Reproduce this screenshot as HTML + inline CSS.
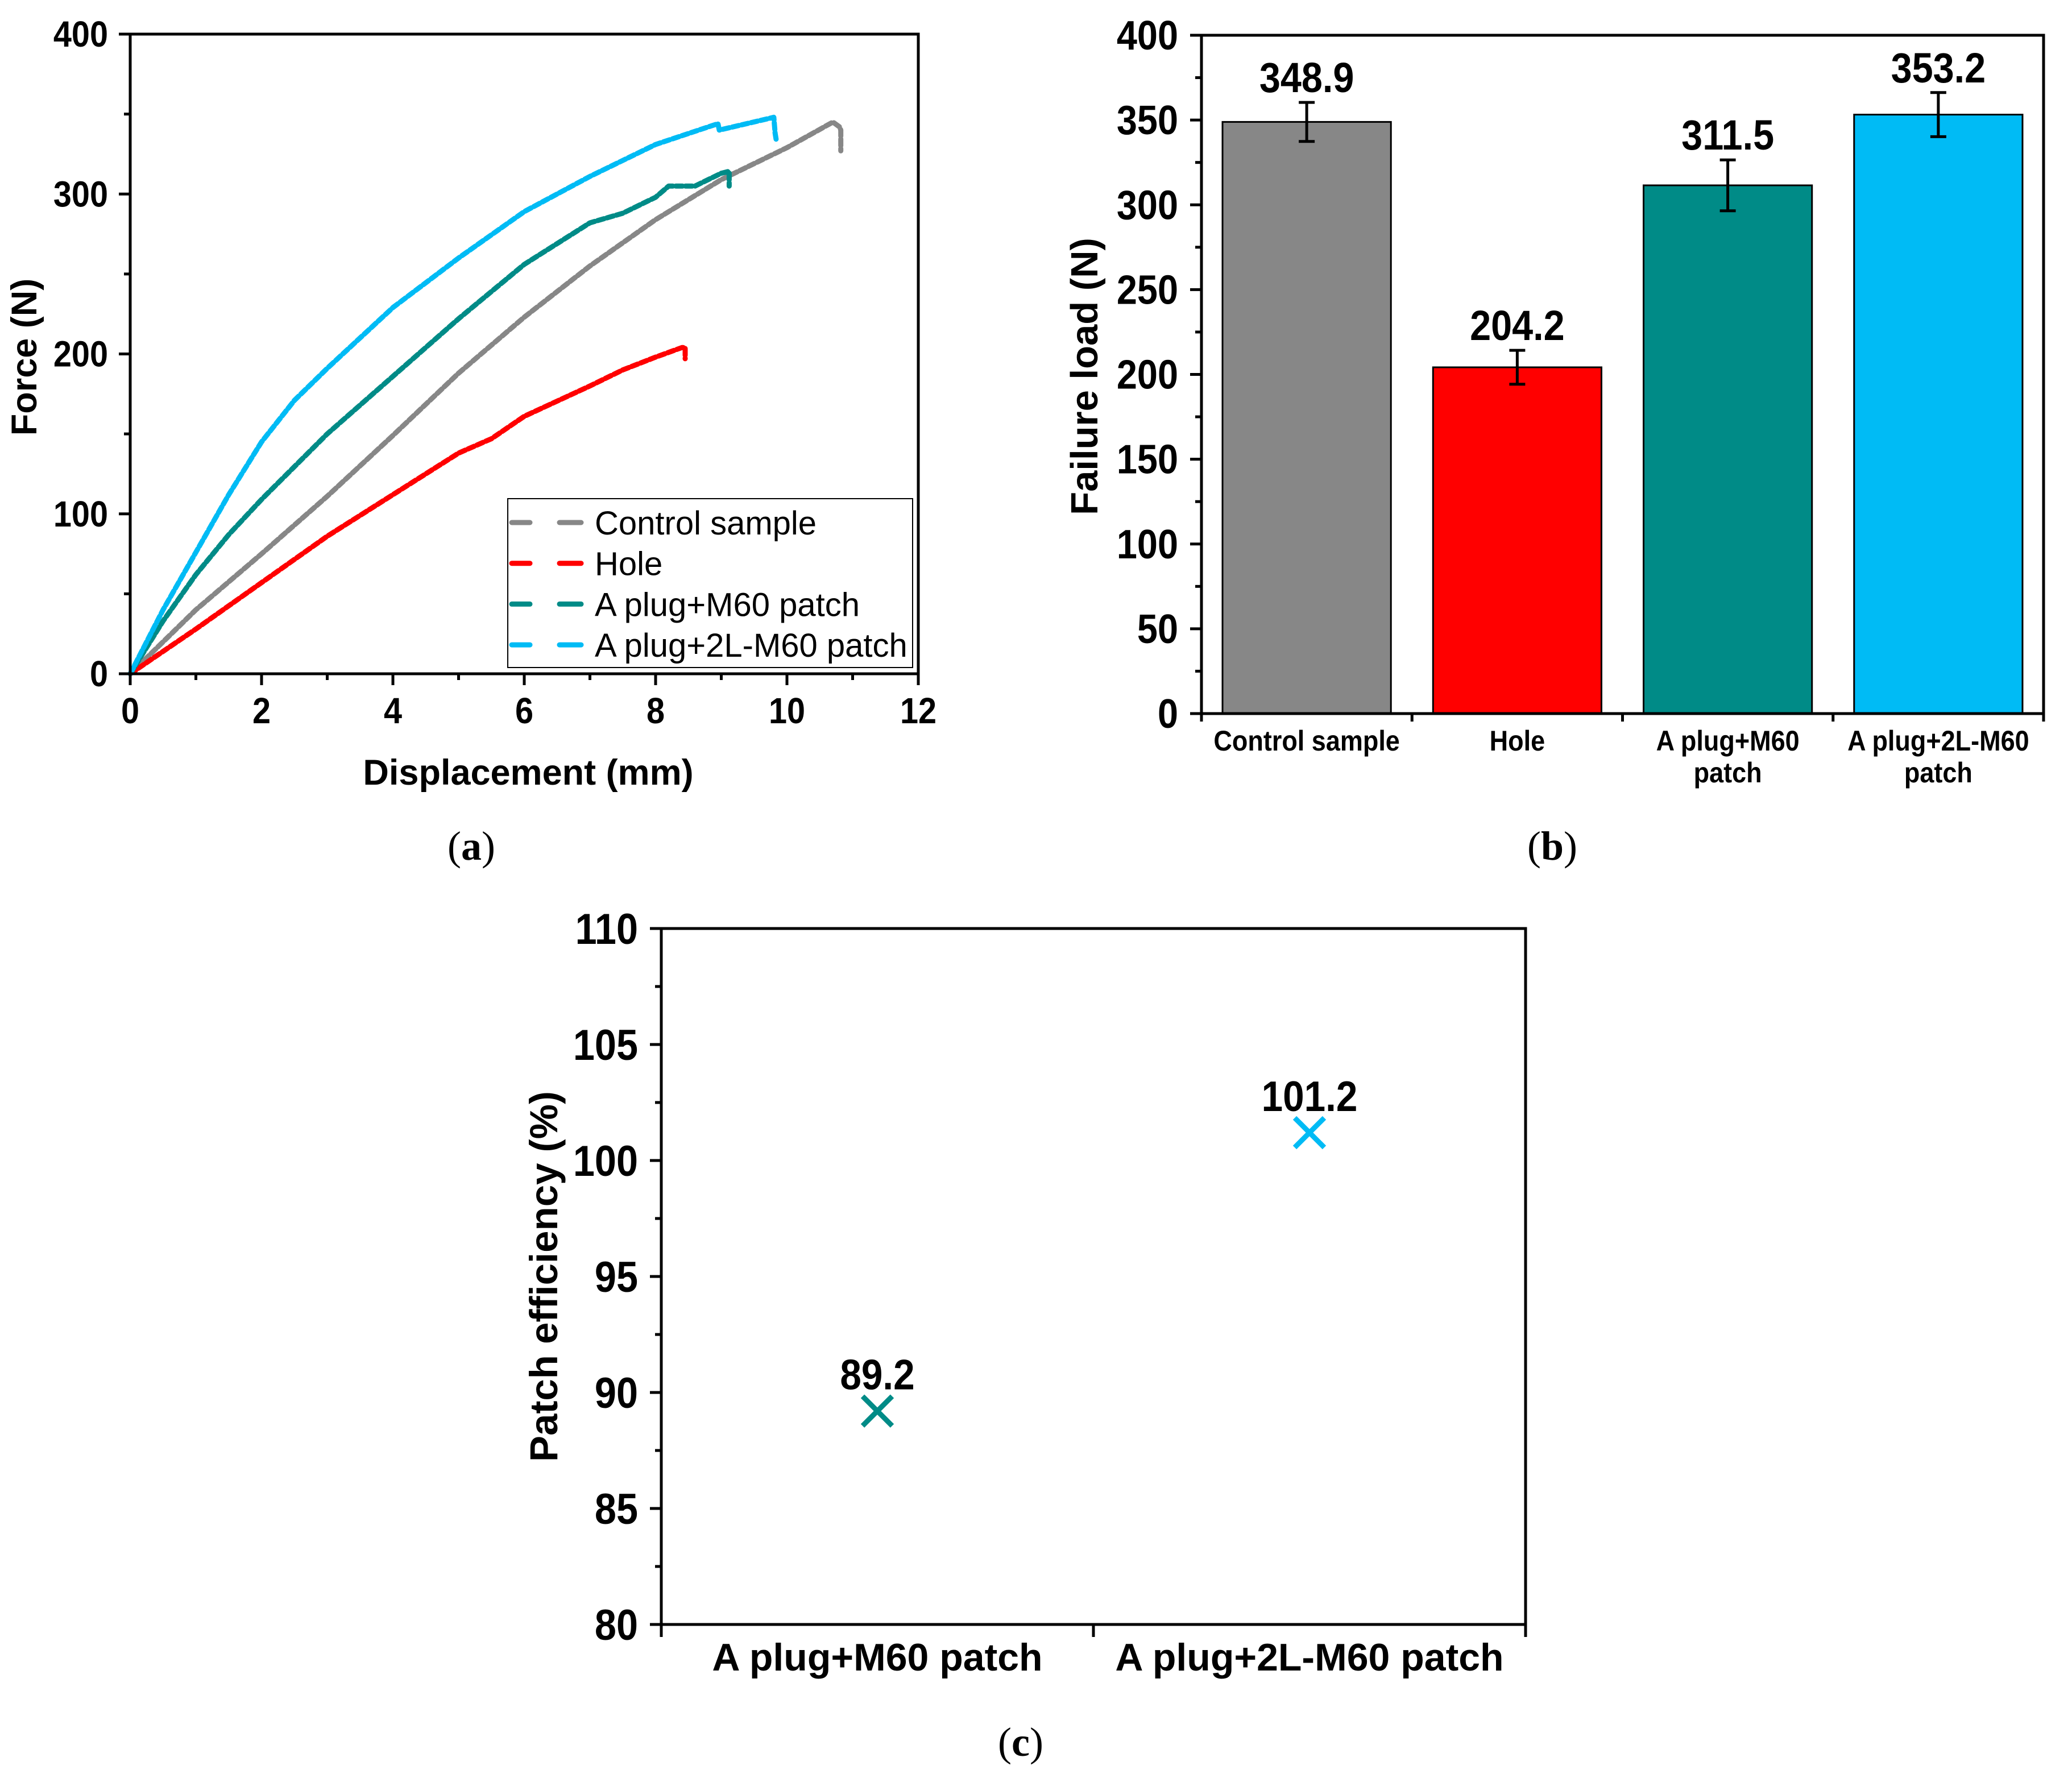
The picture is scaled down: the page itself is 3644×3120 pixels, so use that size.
<!DOCTYPE html>
<html><head><meta charset="utf-8"><style>
html,body{margin:0;padding:0;background:#fff}
svg{display:block}
.t{font-family:"Liberation Sans Narrow","Liberation Sans",Arial,sans-serif;font-weight:bold}
.r{font-family:"Liberation Sans",Arial,sans-serif}
.cap{font-family:"Liberation Serif",serif}
</style></head><body>
<svg id="fig" width="3644" height="3120" viewBox="0 0 3644 3120" xmlns="http://www.w3.org/2000/svg">
<text class="cap" x="829" y="1512" font-size="72" text-anchor="middle">(<tspan font-weight="bold">a</tspan>)</text>
<text class="cap" x="2730" y="1512" font-size="72" text-anchor="middle">(<tspan font-weight="bold">b</tspan>)</text>
<text class="cap" x="1795" y="3088" font-size="72" text-anchor="middle">(<tspan font-weight="bold">c</tspan>)</text>
</svg>
<script>
// ---- chart a data ----
const seriesNames=["Control sample","Hole","A plug+M60 patch","A plug+2L-M60 patch"];
const grayX=[0,0.5,1,2,3,4,5,6,7,8,9,10,10.7,10.8,10.82,10.82];
const grayY=[0,20,40,75,111,149,188,223,255,284,309,329,345,342,340,327];
const redX=[0,0.5,1,2,3,4,5,5.5,6,7,7.5,8,8.4,8.45,8.45];
const redY=[0,14,28,57,86,112,138,147,161,180,190,198,204,204,197];
const greenX=[0,0.5,1,1.5,2,3,4,5,6,7,7.5,8,8.2,8.6,9,9.1,9.12,9.12];
const greenY=[0,33,62,87,109,150,186,222,256,282,288,298,305,305,313,314,314,305];
const blueX=[0,0.5,1,1.5,2,2.5,3,4,5,6,7,8,8.95,8.97,9.8,9.82,9.84];
const blueY=[0,40,76,112,145,171,191,229,260,289,311,331,344,340,348,338,333];
const xTicksA=[0,2,4,6,8,10,12];
const yTicksA=[0,100,200,300,400];
// ---- chart b data ----
const barCats=[["Control sample"],["Hole"],["A plug+M60","patch"],["A plug+2L-M60","patch"]];
const barVals=[348.9,204.2,311.5,353.2];
const barErr=[11.5,10,15,13];
const barLabels=["348.9","204.2","311.5","353.2"];
const yTicksB=[0,50,100,150,200,250,300,350,400];
// ---- chart c data ----
const effCats=["A plug+M60 patch","A plug+2L-M60 patch"];
const effVals=[89.2,101.2];
const effLabels=["89.2","101.2"];
const yTicksC=[80,85,90,95,100,105,110];

const colors=["#878787","#ff0000","#008b87","#00bbf5"];
const NS="http://www.w3.org/2000/svg";
const svg=document.getElementById('fig');
function mk(tag,attrs,parent){const e=document.createElementNS(NS,tag);for(const k in attrs)e.setAttribute(k,attrs[k]);(parent||svg).appendChild(e);return e;}
function txt(s,attrs,parent){const e=mk('text',attrs,parent);e.textContent=s;return e;}
function ntxt(s,x,y,size,anchor,parent){const e=mk('text',{class:'t',transform:`translate(${x},${y}) scale(0.9,1)`,'font-size':size,'text-anchor':anchor},parent);e.textContent=s;return e;}

// ===== Chart A =====
const A={l:229,r:1615,t:60,b:1185};
const ax=v=>A.l+(v/12)*(A.r-A.l);
const ay=v=>A.b-(v/400)*(A.b-A.t);
const gA=mk('g',{});


const sets=[[grayX,grayY],[redX,redY],[greenX,greenY],[blueX,blueY]];
const names=['series-control','series-hole','series-plug-m60','series-plug-2l-m60'];
sets.forEach((s,i)=>{
  let d='';s[0].forEach((x,j)=>{d+=(j?'L':'M')+ax(x).toFixed(1)+','+ay(s[1][j]).toFixed(1);});
  const p=mk('path',{d:d,fill:'none',stroke:colors[i],'stroke-width':9,'stroke-dasharray':'12 5','stroke-linecap':'round','stroke-linejoin':'round'},gA);
  
  
});
mk('rect',{x:A.l,y:A.t,width:A.r-A.l,height:A.b-A.t,fill:'none',stroke:'#000','stroke-width':5},gA);
for(let v=0;v<=400;v+=50){const y=ay(v);mk('line',{x1:A.l-(v%100?11:20),x2:A.l,y1:y,y2:y,stroke:'#000','stroke-width':5},gA);}
yTicksA.forEach(v=>{const t=ntxt(String(v),190,ay(v)+22,64,'end',gA);});
for(let v=0;v<=12;v+=1){const x=ax(v);mk('line',{x1:x,x2:x,y1:A.b,y2:A.b+(v%2?11:20),stroke:'#000','stroke-width':5},gA);}
xTicksA.forEach(v=>{const t=ntxt(String(v),ax(v),1272,64,'middle',gA);});
let tt=txt('Displacement (mm)',{class:'r','font-weight':'bold',x:929,y:1380,'font-size':63,'text-anchor':'middle'},gA);

tt=txt('Force (N)',{class:'r','font-weight':'bold',transform:'translate(64,628) rotate(-90)','font-size':63,'text-anchor':'middle'},gA);

const lg=mk('g',{},gA);


mk('rect',{x:893,y:877,width:712,height:297,fill:'#fff',stroke:'#000','stroke-width':2},lg);
seriesNames.forEach((n,i)=>{const y=919+i*71.7;
  mk('line',{x1:900,x2:932,y1:y,y2:y,stroke:colors[i],'stroke-width':9,'stroke-linecap':'round'},lg);
  mk('line',{x1:984,x2:1022,y1:y,y2:y,stroke:colors[i],'stroke-width':9,'stroke-linecap':'round'},lg);
  const t=txt(n,{class:'r',x:1046,y:y+21,'font-size':58},lg);
  
});

// ===== Chart B =====
const B={l:2113,r:3594,t:62,b:1255};
const bw=(B.r-B.l)/4;
const by=v=>B.b-(v/400)*(B.b-B.t);
const gB=mk('g',{});


barVals.forEach((v,i)=>{
  const cx=B.l+bw*(i+0.5),w=bw*0.8;
  const r=mk('rect',{x:cx-w/2,y:by(v),width:w,height:B.b-by(v),fill:colors[i],stroke:'#000','stroke-width':3},gB);
  
  const e1=by(v+barErr[i]),e2=by(v-barErr[i]);
  const eb=mk('path',{d:`M${cx},${e1}V${e2}M${cx-14},${e1}H${cx+14}M${cx-14},${e2}H${cx+14}`,stroke:'#000','stroke-width':5,fill:'none'},gB);
  
  const l=ntxt(barLabels[i],cx,e1-18,74,'middle',gB);
  
  barCats[i].forEach((s,k)=>{const c=ntxt(s,cx,1320+k*56,50,'middle',gB);});
});
mk('rect',{x:B.l,y:B.t,width:B.r-B.l,height:B.b-B.t,fill:'none',stroke:'#000','stroke-width':5},gB);
for(let v=0;v<=400;v+=25){const y=by(v);mk('line',{x1:B.l-(v%50?11:20),x2:B.l,y1:y,y2:y,stroke:'#000','stroke-width':5},gB);}
yTicksB.forEach(v=>{const t=ntxt(String(v),2072,by(v)+25,72,'end',gB);});
for(let i=0;i<=4;i++){const x=B.l+bw*i;mk('line',{x1:x,x2:x,y1:B.b,y2:B.b+14,stroke:'#000','stroke-width':5},gB);}
tt=txt('Failure load (N)',{class:'r','font-weight':'bold',transform:'translate(1930,662) rotate(-90)','font-size':67,'text-anchor':'middle'},gB);


// ===== Chart C =====
const C={l:1163,r:2683,t:1633,b:2857};
const cw=(C.r-C.l)/2;
const cy=v=>C.b-((v-80)/30)*(C.b-C.t);
const gC=mk('g',{});


mk('rect',{x:C.l,y:C.t,width:C.r-C.l,height:C.b-C.t,fill:'none',stroke:'#000','stroke-width':5},gC);
for(let v=80;v<=110;v+=2.5){const y=cy(v);mk('line',{x1:C.l-(v%5?11:20),x2:C.l,y1:y,y2:y,stroke:'#000','stroke-width':5},gC);}
yTicksC.forEach(v=>{const t=ntxt(String(v),1122,cy(v)+27,76,'end',gC);});
for(let i=0;i<=2;i++){const x=C.l+cw*i;mk('line',{x1:x,x2:x,y1:C.b,y2:C.b+22,stroke:'#000','stroke-width':5},gC);}
const ccol=[colors[2],colors[3]];
effVals.forEach((v,i)=>{
  const x=C.l+cw*(i+0.5),y=cy(v),s=26;
  const m=mk('path',{d:`M${x-s},${y-s}L${x+s},${y+s}M${x-s},${y+s}L${x+s},${y-s}`,stroke:ccol[i],'stroke-width':9,fill:'none'},gC);
  
  const l=ntxt(effLabels[i],x,y-38,75,'middle',gC);
  
  const c=txt(effCats[i],{class:'r','font-weight':'bold',x:x,y:2938,'font-size':68,'text-anchor':'middle'},gC);
  
});
tt=txt('Patch efficiency (%)',{class:'r','font-weight':'bold',transform:'translate(980,2245) rotate(-90)','font-size':69,'text-anchor':'middle'},gC);

</script>
</body></html>
